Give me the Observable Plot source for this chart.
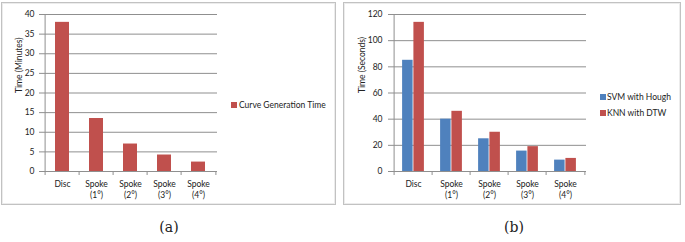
<!DOCTYPE html>
<html><head><meta charset="utf-8">
<script src="https://cdn.jsdelivr.net/npm/d3@7"></script>
<script src="https://cdn.jsdelivr.net/npm/@observablehq/plot@0.6"></script>
<style>
body{margin:0;background:#fff;width:685px;height:242px;position:relative;overflow:hidden;font-family:Lato,sans-serif;color:#222}
.panel{position:absolute;top:2px;height:203px;box-shadow:inset 0 0 0 1px #c2c2c2, inset 0 0 0 2px #ececec}
.panel svg{position:absolute;left:0;top:0}
.leg{position:absolute;font-size:8.5px;line-height:10px;white-space:nowrap;color:#222}
.sw{position:absolute;width:6px;height:6px}
.cap{position:absolute;top:219px;font-family:"DejaVu Serif","Liberation Serif",serif;font-size:14px;transform:translateX(-50%)}
</style></head><body>
<div id="pa" class="panel" style="left:1px;width:335px"></div>
<div id="pb" class="panel" style="left:343px;width:338px"></div>
<div class="sw" style="left:231px;top:102px;background:#C0504D"></div>
<div class="leg" style="left:239px;top:100px">Curve Generation Time</div>
<div class="sw" style="left:600px;top:94px;background:#4F81BD"></div>
<div class="leg" style="left:607px;top:91.5px">SVM with Hough</div>
<div class="sw" style="left:600px;top:110px;background:#C0504D"></div>
<div class="leg" style="left:607px;top:108px">KNN with DTW</div>
<div class="cap" style="left:169px">(a)</div>
<div class="cap" style="left:514px">(b)</div>
<script>
// ---- data ----
const categories = ["Disc", "Spoke\n(1°)", "Spoke\n(2°)", "Spoke\n(3°)", "Spoke\n(4°)"];
const curveGenerationTime = [38, 13.5, 7, 4.2, 2.4];       // minutes
const svmWithHough = [85, 40, 25, 15.6, 8.7];              // seconds
const knnWithDtw = [114, 46, 30, 19, 10];                  // seconds
const yTicksA = [0, 5, 10, 15, 20, 25, 30, 35, 40];
const yTicksB = [0, 20, 40, 60, 80, 100, 120];

const dataA = categories.map((c, i) => ({cat: c, value: curveGenerationTime[i]}));
const dataB = categories.map((c, i) => ({cat: c, svm: svmWithHough[i], knn: knnWithDtw[i]}));

const gridColor = "#8f8f8f";
const baseStyle = {fontFamily: "Lato, sans-serif", fontSize: "8.5px", color: "#222", background: "transparent", overflow: "visible"};

// ---- panel (a) ----
{
  const w = 335, h = 203, ml = 42, mr = 119, mt = 12, mb = 34;
  const step = (w - ml - mr) / categories.length;
  const chart = Plot.plot({
    width: w, height: h, marginLeft: ml, marginRight: mr, marginTop: mt, marginBottom: mb,
    style: baseStyle,
    x: {domain: categories, paddingInner: 0.6, paddingOuter: 0.3, label: null},
    y: {domain: [0, 40], label: null},
    marks: [
      Plot.gridY(yTicksA, {stroke: gridColor, strokeOpacity: 1}),
      Plot.barY(dataA, {x: "cat", y: "value", fill: "#C0504D"}),
      Plot.ruleX([categories[0]], {x: d => d, y1: 0, y2: 40, dx: -step / 2, stroke: gridColor}),
      Plot.ruleX(categories, {x: d => d, y1: 0, y2: 0, insetBottom: -4, dx: -step / 2, stroke: gridColor}),
      Plot.ruleX([categories[categories.length - 1]], {x: d => d, y1: 0, y2: 0, insetBottom: -4, dx: step / 2, stroke: gridColor}),
      Plot.axisY(yTicksA, {tickSize: 4, tickPadding: 5, stroke: gridColor, label: null}),
      Plot.axisX({tickSize: 0, tickPadding: 8, lineHeight: 1.3, label: null}),
      Plot.text(["Time (Minutes)"], {frameAnchor: "left", dx: -24, rotate: -90, fontSize: 8.5})
    ]
  });
  document.getElementById("pa").appendChild(chart);
}

// ---- panel (b) ----
{
  const w = 338, h = 203, ml = 49, mr = 95, mt = 12, mb = 34;
  const step = (w - ml - mr) / categories.length;
  const barW = 11.3;
  const outer = (step - 2 * barW) / 2;
  const chart = Plot.plot({
    width: w, height: h, marginLeft: ml, marginRight: mr, marginTop: mt, marginBottom: mb,
    style: baseStyle,
    x: {domain: categories, padding: 0, label: null},
    y: {domain: [0, 120], label: null},
    marks: [
      Plot.gridY(yTicksB, {stroke: gridColor, strokeOpacity: 1}),
      Plot.barY(dataB, {x: "cat", y: "svm", fill: "#4F81BD", insetLeft: outer, insetRight: outer + barW}),
      Plot.barY(dataB, {x: "cat", y: "knn", fill: "#C0504D", insetLeft: outer + barW, insetRight: outer}),
      Plot.ruleX([categories[0]], {x: d => d, y1: 0, y2: 120, dx: -step / 2, stroke: gridColor}),
      Plot.ruleX(categories, {x: d => d, y1: 0, y2: 0, insetBottom: -4, dx: -step / 2, stroke: gridColor}),
      Plot.ruleX([categories[categories.length - 1]], {x: d => d, y1: 0, y2: 0, insetBottom: -4, dx: step / 2, stroke: gridColor}),
      Plot.axisY(yTicksB, {tickSize: 4, tickPadding: 6, stroke: gridColor, label: null}),
      Plot.axisX({tickSize: 0, tickPadding: 8, lineHeight: 1.3, label: null}),
      Plot.text(["Time (Seconds)"], {frameAnchor: "left", dx: -30, rotate: -90, fontSize: 8.5})
    ]
  });
  document.getElementById("pb").appendChild(chart);
}
</script>
</body></html>
